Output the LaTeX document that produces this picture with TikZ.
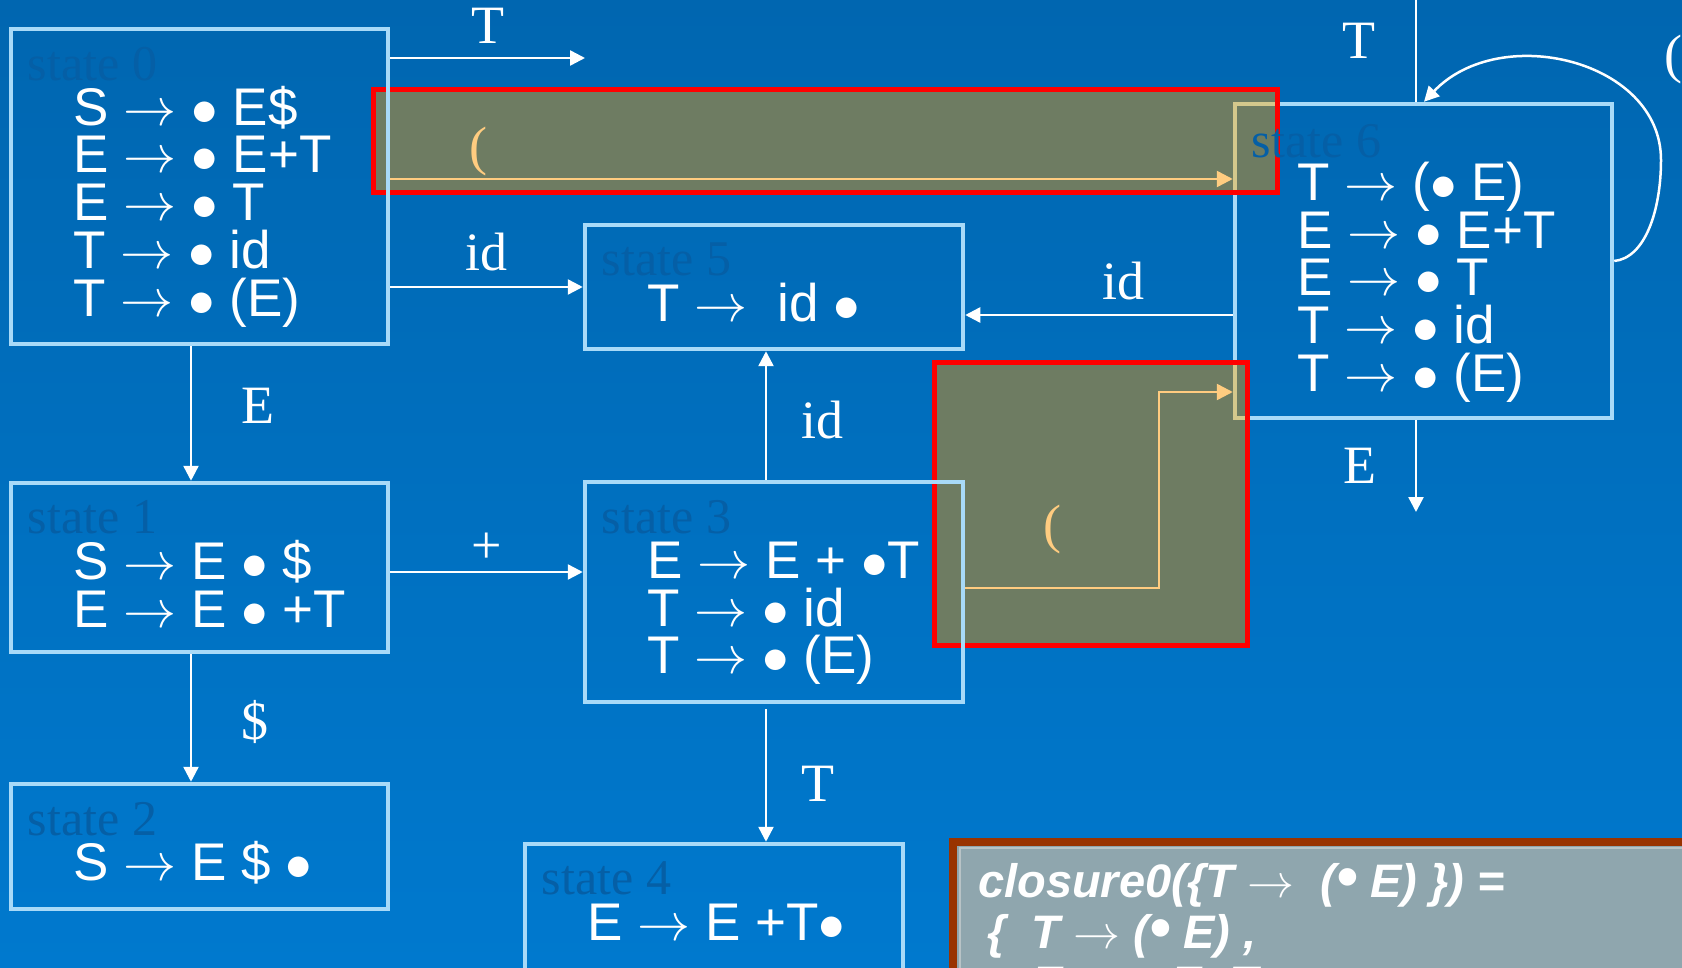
\RequirePackage{fix-cm}
\documentclass[tikz,border=0pt]{standalone}
\usepackage{fontspec}
\setmainfont{Liberation Serif}
\newfontfamily\itemfont{Liberation Sans}
\definecolor{SlideBlue}{HTML}{0066B0}
\definecolor{SlideBlueLow}{HTML}{0079CE}
\definecolor{FrameBlue}{HTML}{A8DAF8}
\definecolor{FrameTan}{HTML}{D4C88C}
\definecolor{TagBlue}{HTML}{055FA6}
\definecolor{Olive}{HTML}{6E7C62}
\definecolor{ParenOrange}{HTML}{FFCC80}
\definecolor{Brick}{HTML}{993300}
\definecolor{NoteGrey}{HTML}{8FA6AE}
\definecolor{NoteLine}{HTML}{B8C3C6}
\usetikzlibrary{arrows.meta,positioning}
\newcommand{\yields}{$\rightarrow$}
\newcommand{\dotb}{$\bullet$}

\begin{document}
\begin{tikzpicture}[x=1pt, y=-1pt, every node/.style={inner sep=0pt}]
\tikzset{stateframe/.style={draw=FrameBlue, line width=4.5pt, minimum width=377pt}}
\tikzset{items/.style={text=white, align=left, font=\itemfont\fontsize{53}{47.8}\selectfont}}
\tikzset{statetag/.style={text=TagBlue, font=\fontsize{50}{50}\selectfont}}
\tikzset{spot/.style={fill=Olive}}
\tikzset{spotedge/.style={draw=red, line width=5pt}}
\tikzset{arrow/.style={-{Triangle[length=15pt, width=15pt]}, draw=white, line width=2.5pt}}
\tikzset{parenarrow/.style={-{Triangle[length=16pt, width=16pt]}, draw=ParenOrange, line width=2.5pt}}
\tikzset{edgelbl/.style={text=white, font=\fontsize{54}{54}\selectfont}}
\tikzset{parenlbl/.style={edgelbl, text=ParenOrange}}
\tikzset{notetext/.style={text=white, align=left, font=\itemfont\bfseries\itshape\fontsize{47}{51}\selectfont}}

\useasboundingbox (0,0) rectangle (1682,968);
\fill[top color=SlideBlue, bottom color=SlideBlueLow] (0,0) rectangle (1682,968);

% state 6 sits under the highlighted regions
\node[stateframe, minimum height=314pt] (s6) at (1423.5,261) {};
\node[spot, minimum width=903pt, minimum height=102pt] (hA) at (825.5,141) {};
\node[spot, minimum width=313pt, minimum height=283pt] (hB) at (1091,504) {};
\begin{scope}
\clip (hA.north west) rectangle (hA.south east) (hB.north west) rectangle (hB.south east);
\node[stateframe, draw=FrameTan, minimum height=314pt] (s6tint) at (s6) {};
\end{scope}
\draw[spotedge] (hA.north west) rectangle (hA.south east);
\draw[spotedge] (hB.north west) rectangle (hB.south east);

% states
\node[stateframe, minimum height=315pt] (s0) at (199.5,186.5) {};
\node[stateframe, minimum height=169pt, below=134.5pt of s0] (s1) {};
\node[stateframe, minimum height=125pt, below=127.5pt of s1] (s2) {};
\node[stateframe, minimum width=378pt, minimum height=124pt] (s5) at (774,287) {};
\node[stateframe, minimum width=378pt, minimum height=220pt, below=128.5pt of s5] (s3) {};
\node[stateframe, minimum width=378pt, minimum height=130pt, below=137.5pt of s3, xshift=-60pt] (s4) {};

% item sets
\node[items, below right=58.25pt and 64.75pt of s0.north west] (t0) {\rule{0pt}{40pt}S \yields\ \dotb\ E\$\\ E \yields\ \dotb\ E+T\\ E \yields\ \dotb\ T\\ T \yields\ \dotb\ id\\ T \yields\ \dotb\ (E)};
\node[items, below right=58.25pt and 64.75pt of s1.north west] (t1) {\rule{0pt}{40pt}S \yields\ E \dotb\ \$\\ E \yields\ E \dotb\ +T};
\node[items, below right=58.25pt and 64.75pt of s2.north west] (t2) {\rule{0pt}{40pt}S \yields\ E \$ \dotb};
\node[items, below right=58.25pt and 64.75pt of s3.north west] (t3) {\rule{0pt}{40pt}E \yields\ E + \dotb T\\ T \yields\ \dotb\ id\\ T \yields\ \dotb\ (E)};
\node[items, below right=58.25pt and 64.75pt of s4.north west] (t4) {\rule{0pt}{40pt}E \yields\ E +T\dotb};
\node[items, below right=58.25pt and 64.75pt of s5.north west] (t5) {\rule{0pt}{40pt}T \yields\ \ id \dotb};
\node[items, below right=58.25pt and 64.75pt of s6.north west] (t6) {\rule{0pt}{40pt}T \yields\ (\dotb\ E)\\ E \yields\ \dotb\ E+T\\ E \yields\ \dotb\ T\\ T \yields\ \dotb\ id\\ T \yields\ \dotb\ (E)};

% faint state tags
\node[statetag, below right=20pt and 19pt of s0.north west] (n0) {state 0};
\node[statetag, below right=20pt and 19pt of s1.north west] (n1) {state 1};
\node[statetag, below right=20pt and 19pt of s2.north west] (n2) {state 2};
\node[statetag, below right=20pt and 19pt of s3.north west] (n3) {state 3};
\node[statetag, below right=20pt and 19pt of s4.north west] (n4) {state 4};
\node[statetag, below right=20pt and 19pt of s5.north west] (n5) {state 5};
\node[statetag, below right=22pt and 19pt of s6.north west] (n6) {state 6};

% transitions
\coordinate (t0src) at ([yshift=128.5pt]s0.east);
\coordinate (t0end) at (585,58);
\draw[arrow] (t0src) -- (t0end) node[edgelbl, midway, above=13pt] (lT0) {T};
\coordinate (p0) at ([yshift=7.5pt]s0.east);
\draw[parenarrow] (p0) -- (p0 -| s6.west) node[parenlbl, pos=0.105, above=2pt] (lp0) {(};
\draw[arrow] (s0.east |- s5.west) -- (s5.west) node[edgelbl, midway, above=15pt] (lid0) {id};
\coordinate (i6) at ([yshift=-54pt]s6.west);
\draw[arrow] (i6) -- (i6 -| s5.east) node[edgelbl, pos=0.41, above=14pt] (lid6) {id};
\draw[arrow] ([xshift=-8.5pt]s0.south) -- ([xshift=-8.5pt]s1.north) node[edgelbl, pos=0.44, right=49.5pt] (lE0) {E};
\draw[arrow] ([xshift=-8.5pt]s1.south) -- ([xshift=-8.5pt]s2.north) node[edgelbl, pos=0.53, right=49.5pt] (ld1) {\$};
\coordinate (pl1) at ([yshift=-4.5pt]s1.east);
\draw[arrow] (pl1) -- (pl1 -| s3.west) node[edgelbl, midway, above=7pt] (lplus) {+};
\draw[arrow] ([xshift=-8pt]s3.north) -- ([xshift=-8pt]s5.south) node[edgelbl, pos=0.465, right=34pt] (lid3) {id};
\coordinate (t3src) at ([xshift=-8pt, yshift=-5pt]s3.south);
\draw[arrow] (t3src) -- (t3src |- s4.north) node[edgelbl, pos=0.56, right=34.5pt] (lT3) {T};
\coordinate (q3) at ([yshift=4pt]s3.east);
\coordinate (q6) at ([yshift=-131pt]s6.west);
\draw[parenarrow] (q3) -- ++(193.75,0) node[parenlbl, pos=0.45, above=33pt] (lp3) {(} |- (q6);
\coordinate (t6in) at (1416,0);
\draw[draw=white, line width=2.5pt] (t6in) -- (t6in |- s6.north) node[edgelbl, pos=0.4, left=39.5pt] (lT6) {T};
\coordinate (lp6) at (1661,160);
\draw[arrow] (s6.east) .. controls +(31,-3) and +(0,50) .. (lp6) .. controls +(0,-100) and +(76,-80) .. ([xshift=0.5pt]s6.north);
\node[edgelbl] (lloop) at (1673,60) {(};
\coordinate (e6src) at ([xshift=-7.5pt]s6.south);
\coordinate (e6end) at (1416,512);
\draw[arrow] (e6src) -- (e6end) node[edgelbl, midway, left=38.5pt] (lE6) {E};

% closure note
\node[draw=Brick, line width=8pt, fill=NoteGrey, minimum width=800pt, minimum height=200pt, anchor=north west] (note) at (949,838) {};
\draw[NoteLine, line width=2.5pt] ([shift={(11,10)}]note.north west) rectangle ([shift={(-11,-10)}]note.south east);
\node[notetext, below right=19.5pt and 29pt of note.north west] (nt) {\rule{0pt}{40pt}closure0(\{T \yields\ \ (\scalebox{1.3}{\textbullet}\ E) \})\ =\\ \hspace*{9pt}\{ \ T \yields\ (\scalebox{1.3}{\textbullet}\ E) ,\\ \hspace*{9pt}\phantom{\{ \ }E \yields\ \scalebox{1.3}{\textbullet}\ E+T ,};
\end{tikzpicture}
\end{document}
